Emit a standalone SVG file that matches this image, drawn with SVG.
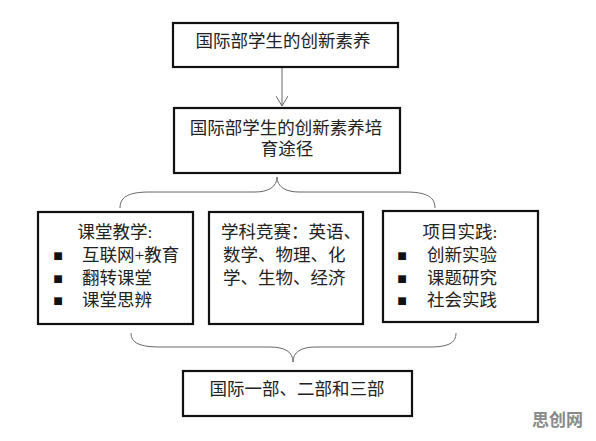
<svg xmlns="http://www.w3.org/2000/svg" width="596" height="441" viewBox="0 0 596 441">
<style>
.box{fill:#fff;stroke:#111;stroke-width:2.2}
.t{font-family:"Liberation Serif","Noto Sans CJK SC",serif;font-size:17.5px;fill:#222;dominant-baseline:central}
.c{text-anchor:middle}
.b{font-size:16px;fill:#111}
.con{fill:none;stroke:#666;stroke-width:1}
.wm{font-family:"Noto Sans CJK SC",sans-serif;font-size:17px;font-weight:bold;fill:#8a8a8a;dominant-baseline:central}
</style>
<defs>
<marker id="arr" markerWidth="12" markerHeight="12" refX="10" refY="6" orient="auto" markerUnits="userSpaceOnUse">
<polyline points="0,0 10,6 0,12" fill="none" stroke="#666" stroke-width="1"/>
</marker>
</defs>
<rect width="596" height="441" fill="#fff"/>
<g id="connectors">
<line class="con" x1="282" y1="68" x2="282" y2="106" marker-end="url(#arr)"/>
<path class="con" d="M120,208 C120,196 130,192 150,192 L255,192 C268,192 277,187 277,177 C277,187 286,192 299,192 L405,192 C425,192 435,196 435,208"/>
<path class="con" d="M131,333 C131,343 140,347 160,347 L270,347 C285,347 293,352 293,362 C293,352 301,347 316,347 L430,347 C448,347 456,343 456,333"/>
</g>
<g id="n1">
<rect class="box" x="173" y="23" width="225" height="44"/>
<text class="t c" x="283" y="41">国际部学生的创新素养</text>
</g>
<g id="n2">
<rect class="box" x="174" y="108" width="226" height="65"/>
<text class="t c" x="286" y="128">国际部学生的创新素养培</text>
<text class="t c" x="287" y="149">育途径</text>
</g>
<g id="n3">
<rect class="box" x="38" y="212" width="155" height="112"/>
<text class="t c" x="115" y="232">课堂教学:</text>
<text class="t b c" x="58" y="255">■</text>
<text class="t" x="82" y="255">互联网+教育</text>
<text class="t b c" x="58" y="278">■</text>
<text class="t" x="82" y="278">翻转课堂</text>
<text class="t b c" x="58" y="300">■</text>
<text class="t" x="82" y="300">课堂思辨</text>
</g>
<g id="n4">
<rect class="box" x="209" y="212" width="154" height="112"/>
<text class="t" x="221" y="232">学科竞赛：英语、</text>
<text class="t" x="223" y="255">数学、物理、化</text>
<text class="t" x="223" y="278">学、生物、经济</text>
</g>
<g id="n5">
<rect class="box" x="383" y="211" width="155" height="111"/>
<text class="t c" x="460" y="232">项目实践:</text>
<text class="t b c" x="402" y="255">■</text>
<text class="t" x="427" y="255">创新实验</text>
<text class="t b c" x="402" y="278">■</text>
<text class="t" x="427" y="278">课题研究</text>
<text class="t b c" x="402" y="300">■</text>
<text class="t" x="427" y="300">社会实践</text>
</g>
<g id="n6">
<rect class="box" x="183" y="371" width="229" height="45"/>
<text class="t c" x="297" y="389">国际一部、二部和三部</text>
</g>
<text class="wm" x="532" y="418">思创网</text>
</svg>
